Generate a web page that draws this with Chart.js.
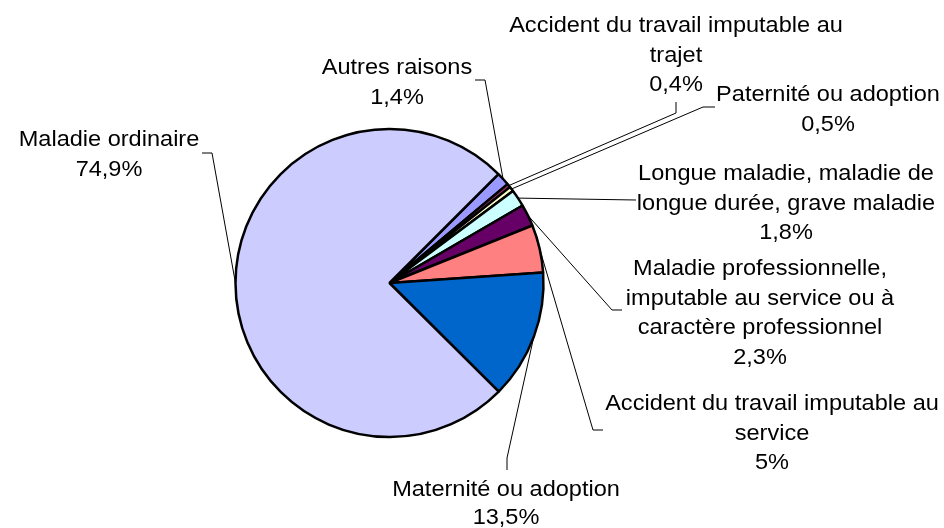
<!DOCTYPE html>
<html>
<head>
<meta charset="utf-8">
<script src="https://cdn.jsdelivr.net/npm/chart.js@4"></script>
<style>
	html, body { margin: 0; padding: 0; background: #fff; }
	#wrap { width: 944px; height: 528px; }
</style>
</head>
<body>
<div id="wrap"><canvas id="chart" width="944" height="528"></canvas></div>
<script>
// data

const categories = [
	['Autres raisons'],
	['Accident du travail imputable au', 'trajet'],
	['Paternité ou adoption'],
	['Longue maladie, maladie de', 'longue durée, grave maladie'],
	['Maladie professionnelle,', 'imputable au service ou à', 'caractère professionnel'],
	['Accident du travail imputable au', 'service'],
	['Maternité ou adoption'],
	['Maladie ordinaire']
];
const shares = [1.4, 0.4, 0.5, 1.8, 2.3, 5, 13.5, 74.9];
const colors = ['#9999FF', '#993366', '#FFFFCC', '#CCFFFF', '#660066', '#FF8080', '#0066CC', '#CCCCFF'];

// label boxes: text centre x, first line y, leader points (label side first)
const labelLayout = [
	{ x: 397, y: 68, pts: [[475, 80], [485, 80]] },
	{ x: 676, y: 26, pts: [[676, 102], [676, 113]] },
	{ x: 828, y: 95, pts: [[715, 107], [703, 107]] },
	{ x: 786, y: 174, pts: [[636, 200]] },
	{ x: 760, y: 269, pts: [[622, 310], [612, 310]] },
	{ x: 772, y: 404, pts: [[603, 430], [593, 430]] },
	{ x: 506, y: 490, pts: [[507, 470], [507, 458]] },
	{ x: 109, y: 140, pts: [[202, 153], [212, 153]] }
];
const lineHeight = 29.5;
const textStretch = 1.07;

const pctText = v => String(v).replace('.', ',') + '%';

const leaderLabels = {
	id: 'leaderLabels',
	afterDraw(chart) {
		const ctx = chart.ctx;
		const arcs = chart.getDatasetMeta(0).data;
		ctx.save();
		ctx.strokeStyle = '#000';
		ctx.lineWidth = 1;
		ctx.fillStyle = '#000';
		ctx.font = '22px "Liberation Sans", Arial, sans-serif';
		ctx.textAlign = 'center';
		ctx.textBaseline = 'middle';

		arcs.forEach((arc, i) => {
			const p = arc.getProps(['x', 'y', 'startAngle', 'endAngle', 'outerRadius'], true);
			const mid = (p.startAngle + p.endAngle) / 2;
			const ax = p.x + Math.cos(mid) * p.outerRadius;
			const ay = p.y + Math.sin(mid) * p.outerRadius;
			const lay = labelLayout[i];

			ctx.beginPath();
			ctx.moveTo(lay.pts[0][0], lay.pts[0][1]);
			lay.pts.slice(1).forEach(pt => ctx.lineTo(pt[0], pt[1]));
			ctx.lineTo(ax, ay);
			ctx.stroke();

			const lines = categories[i].concat([pctText(shares[i])]);
			const step = i === 6 ? 27.5 : lineHeight;
			lines.forEach((t, k) => {
				ctx.save();
				ctx.translate(lay.x, lay.y + k * step);
				ctx.scale(textStretch, 1);
				ctx.fillText(t, 0, 0);
				ctx.restore();
			});
		});
		ctx.restore();
	}
};

new Chart(document.getElementById('chart'), {
	type: 'pie',
	data: {
		labels: categories.map(c => c.join(' ')),
		datasets: [{
			data: shares,
			backgroundColor: colors,
			borderColor: '#000',
			borderWidth: 2.5,
			hoverOffset: 0,
			radius: 154
		}]
	},
	options: {
		responsive: false,
		animation: false,
		rotation: 45,
		layout: {
			padding: { left: 0, right: 165, top: 38, bottom: 0 }
		},
		plugins: {
			legend: { display: false },
			tooltip: { enabled: false }
		}
	},
	plugins: [leaderLabels]
});
</script>
</body>
</html>
